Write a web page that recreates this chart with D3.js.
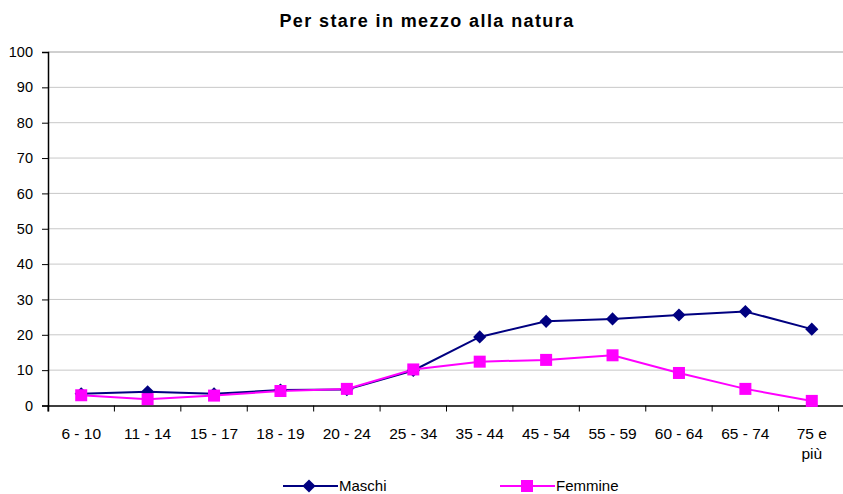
<!DOCTYPE html>
<html><head><meta charset="utf-8">
<script src="https://cdn.jsdelivr.net/npm/d3@7"></script>
<style>body{margin:0;background:#fff}svg{display:block}</style>
</head><body>
<svg id="c" width="843" height="494"></svg>
<script>
const categories = ["6 - 10","11 - 14","15 - 17","18 - 19","20 - 24","25 - 34","35 - 44","45 - 54","55 - 59","60 - 64","65 - 74","75 e più"];
const maschi  = [3.3, 3.9, 3.3, 4.4, 4.5, 9.9, 19.4, 23.8, 24.5, 25.6, 26.6, 21.6];
const femmine = [2.9, 1.8, 2.8, 4.1, 4.7, 10.2, 12.4, 12.9, 14.2, 9.2, 4.7, 1.3];
const yTicks = [0,10,20,30,40,50,60,70,80,90,100];
const title = "Per stare in mezzo alla natura";

const svg = d3.select("#c");
const L = 48, R = 845, T = 52, B = 405.5;
const x = d3.scaleBand().domain(categories).range([L, R]);
const y = d3.scaleLinear().domain([0,100]).range([B, T]);

// gridlines
svg.append("g").selectAll("line").data(yTicks.filter(d=>d>0)).join("line")
  .attr("x1", L).attr("x2", 843).attr("y1", d=>y(d)).attr("y2", d=>y(d))
  .attr("stroke", d=>d===100?"#a0a0a0":"#c8c8c8").attr("stroke-width",1);

// y axis
const ya = svg.append("g").attr("transform",`translate(${L},0)`)
  .call(d3.axisLeft(y).tickValues(yTicks).tickSize(6).tickPadding(9));
ya.select(".domain").attr("stroke","#000").attr("stroke-width",1.5);
ya.selectAll(".tick line").attr("stroke","#000");
ya.selectAll("text").attr("font-family","Liberation Sans, Arial, sans-serif").attr("font-size",14.5).attr("fill","#000");

// x axis
const xa = svg.append("g").attr("transform",`translate(0,${B})`)
  .call(d3.axisBottom(x).tickSize(6).tickFormat(""));
xa.select(".domain").attr("stroke","#000").attr("stroke-width",1.5);
xa.selectAll(".tick line").attr("stroke","#000").attr("transform", `translate(${-x.bandwidth()/2},0)`);
const xl = svg.append("g").selectAll("text").data(categories).join("text")
  .attr("x", d=>x(d)+x.bandwidth()/2).attr("y", 438.5)
  .attr("text-anchor","middle")
  .attr("font-family","Liberation Sans, Arial, sans-serif")
  .attr("font-size",15.5).attr("fill","#000");
xl.each(function(d){
  const parts = d === "75 e più" ? ["75 e","più"] : [d];
  d3.select(this).selectAll("tspan").data(parts).join("tspan")
    .attr("x", x(d)+x.bandwidth()/2).attr("dy",(p,i)=>i?20:0).text(p=>p);
});

const cx = d => x(d)+x.bandwidth()/2;
const line = d3.line().x((v,i)=>cx(categories[i])).y(v=>y(v));

svg.append("path").datum(maschi).attr("d",line).attr("fill","none").attr("stroke","#000080").attr("stroke-width",2);
svg.append("path").datum(femmine).attr("d",line).attr("fill","none").attr("stroke","#ff00ff").attr("stroke-width",2);

const diamond = d3.symbol().type(d3.symbolDiamond2).size(110);
svg.append("g").selectAll("path").data(maschi).join("path")
  .attr("d", diamond).attr("transform",(v,i)=>`translate(${cx(categories[i])},${y(v)})`)
  .attr("fill","#000080");
svg.append("g").selectAll("rect").data(femmine).join("rect")
  .attr("x",(v,i)=>cx(categories[i])-6).attr("y",v=>y(v)-6).attr("width",12).attr("height",12)
  .attr("fill","#ff00ff");

// title
svg.append("text").attr("x",427).attr("y",26.5).attr("text-anchor","middle")
  .attr("font-family","Liberation Sans, Arial, sans-serif").attr("font-weight","bold")
  .attr("font-size",18).attr("letter-spacing",1.4).text(title);

// legend
const leg = [{name:"Maschi", c:"#000080", x:283, shape:"d"},{name:"Femmine", c:"#ff00ff", x:500, shape:"s"}];
const lg = svg.append("g");
leg.forEach(l=>{
  lg.append("line").attr("x1",l.x).attr("x2",l.x+55).attr("y1",486).attr("y2",486).attr("stroke",l.c).attr("stroke-width",2);
  if(l.shape==="d") lg.append("path").attr("d",diamond).attr("transform",`translate(${l.x+26},486)`).attr("fill",l.c);
  else lg.append("rect").attr("x",l.x+21).attr("y",480).attr("width",12).attr("height",12).attr("fill",l.c);
  lg.append("text").attr("x",l.x+56).attr("y",491)
    .attr("font-family","Liberation Sans, Arial, sans-serif")
    .attr("font-size",15).attr("fill","#000").text(l.name);
});
</script>
</body></html>
